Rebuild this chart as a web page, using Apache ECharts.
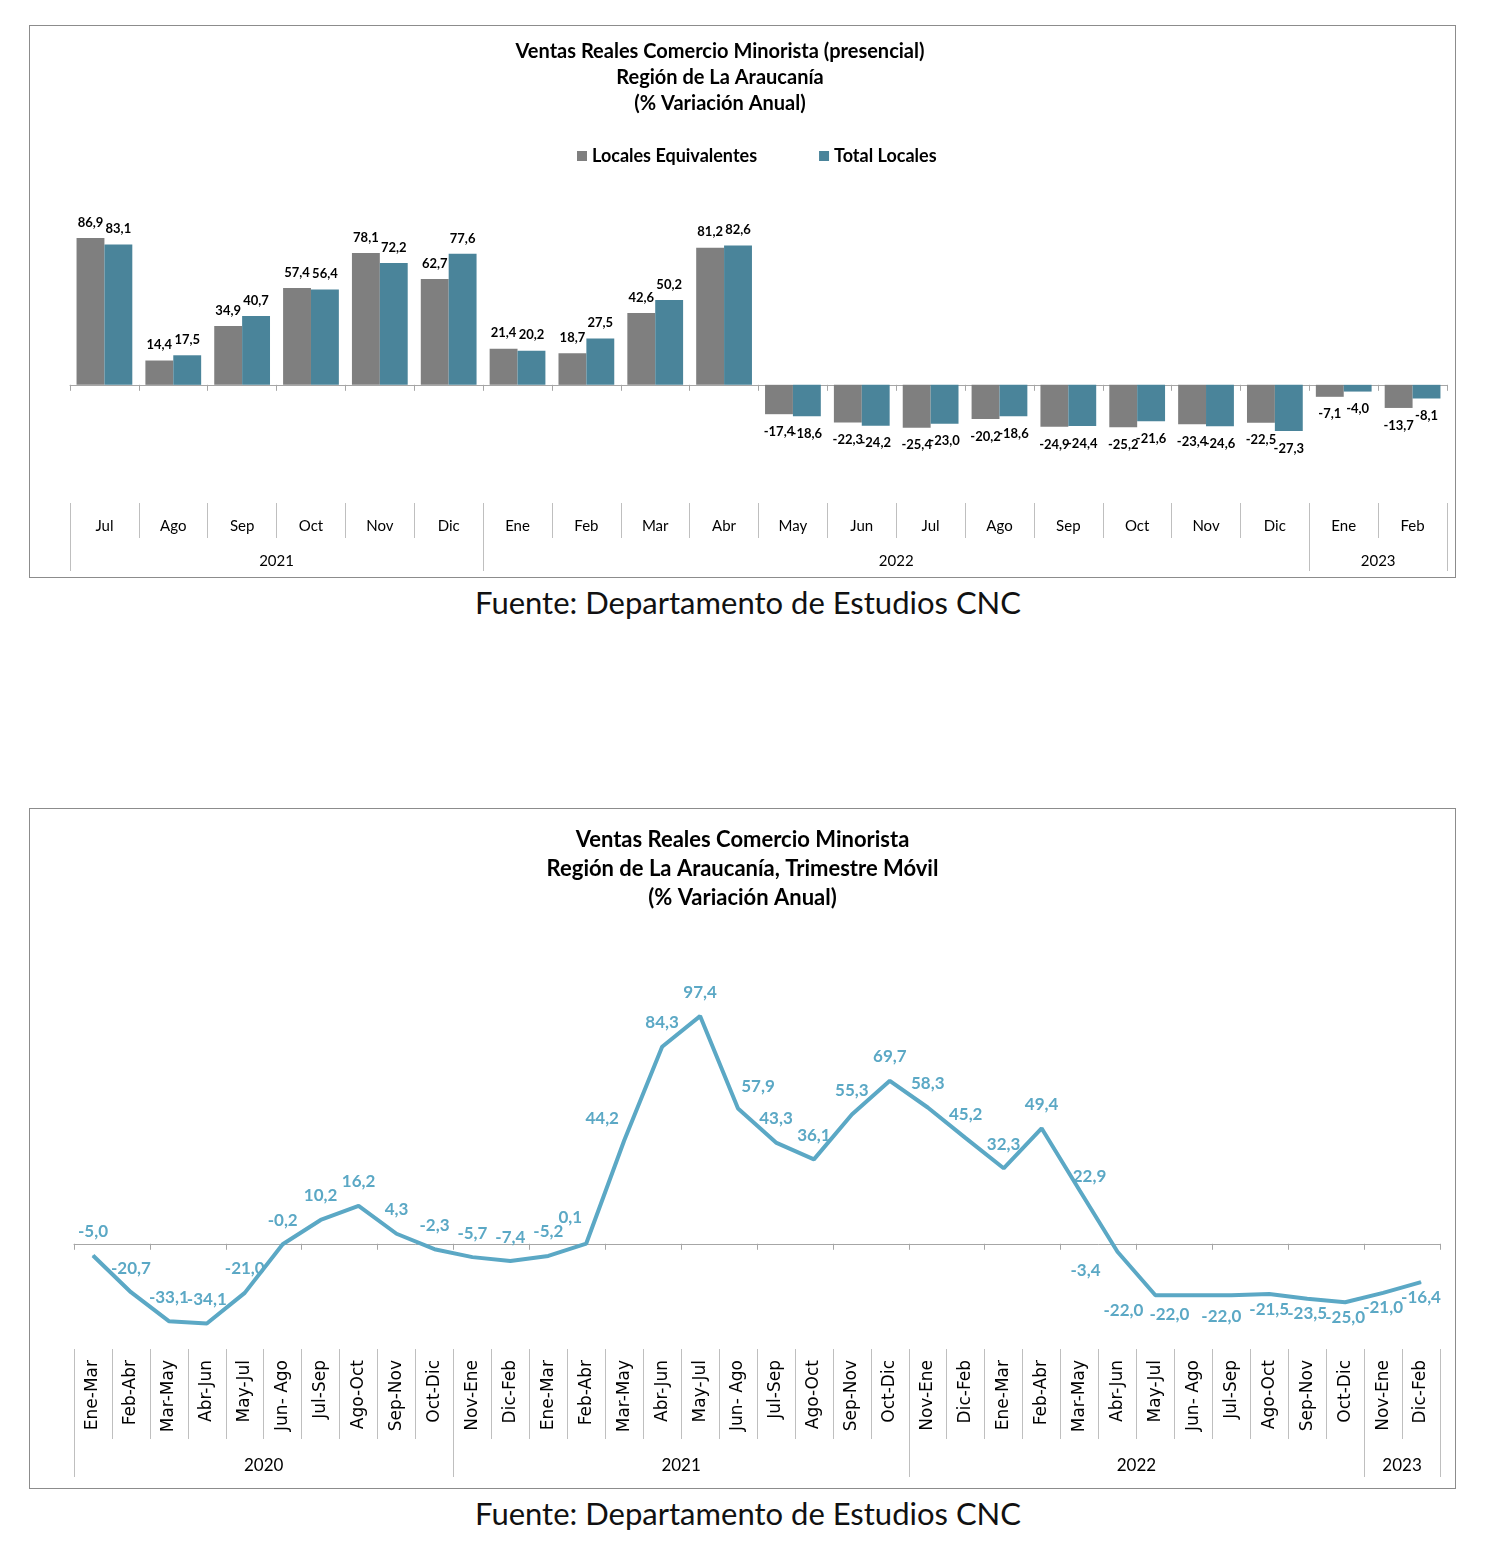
<!DOCTYPE html>
<html><head><meta charset="utf-8">
<script src="https://cdn.jsdelivr.net/npm/echarts@6/dist/echarts.min.js"></script>
<style>
body{margin:0;background:#fff;font-family:Lato,"Open Sans",sans-serif;}
.box{position:absolute;border:1px solid #8c8c8c;box-sizing:border-box;background:#fff;}
#c1{left:29px;top:25px;width:1427px;height:553px;}
#c2{left:29px;top:808px;width:1427px;height:681px;}
.src{position:absolute;left:0;width:1496px;text-align:center;font-size:31px;line-height:36px;color:#111;font-family:Lato,sans-serif;}
</style></head>
<body>
<div id="c1" class="box"></div>
<div class="src" style="top:584px;">Fuente: Departamento de Estudios CNC</div>
<div id="c2" class="box"></div>
<div class="src" style="top:1495px;">Fuente: Departamento de Estudios CNC</div>
<script>
// ---------- Chart 1 data ----------
const barMonths = ['Jul','Ago','Sep','Oct','Nov','Dic','Ene','Feb','Mar','Abr','May','Jun','Jul','Ago','Sep','Oct','Nov','Dic','Ene','Feb'];
const barYears = ['2021','2022','2023'];
const barYearSpans = [6,12,2];
const localesEquivalentes = [86.9,14.4,34.9,57.4,78.1,62.7,21.4,18.7,42.6,81.2,-17.4,-22.3,-25.4,-20.2,-24.9,-25.2,-23.4,-22.5,-7.1,-13.7];
const totalLocales = [83.1,17.5,40.7,56.4,72.2,77.6,20.2,27.5,50.2,82.6,-18.6,-24.2,-23.0,-18.6,-24.4,-21.6,-24.6,-27.3,-4.0,-8.1];

// ---------- Chart 2 data ----------
const lineMonths = ['Ene-Mar','Feb-Abr','Mar-May','Abr-Jun','May-Jul','Jun- Ago','Jul-Sep','Ago-Oct','Sep-Nov','Oct-Dic',
  'Nov-Ene','Dic-Feb','Ene-Mar','Feb-Abr','Mar-May','Abr-Jun','May-Jul','Jun- Ago','Jul-Sep','Ago-Oct','Sep-Nov','Oct-Dic',
  'Nov-Ene','Dic-Feb','Ene-Mar','Feb-Abr','Mar-May','Abr-Jun','May-Jul','Jun- Ago','Jul-Sep','Ago-Oct','Sep-Nov','Oct-Dic',
  'Nov-Ene','Dic-Feb'];
const lineYears = ['2020','2021','2022','2023'];
const lineYearSpans = [10,12,12,2];
const trimestreMovil = [-5.0,-20.7,-33.1,-34.1,-21.0,-0.2,10.2,16.2,4.3,-2.3,-5.7,-7.4,-5.2,0.1,44.2,84.3,97.4,57.9,43.3,36.1,55.3,69.7,58.3,45.2,32.3,49.4,22.9,-3.4,-22.0,-22.0,-22.0,-21.5,-23.5,-25.0,-21.0,-16.4];

const fmt = v => Number(v).toFixed(1).replace('.', ',');
function spanBounds(spans){const b=[0];spans.forEach(s=>b.push(b[b.length-1]+s));return b;}
function spanCenters(spans){const b=spanBounds(spans);return spans.map((s,i)=>b[i]+s/2);}

const axisGray = '#a6a6a6';
const FONT = 'Lato';

// ---------- Chart 1 ----------
const ch1 = echarts.init(document.getElementById('c1'));
const b1 = spanBounds(barYearSpans), cen1 = spanCenters(barYearSpans);
function barData(arr){
  return arr.map(v => ({value:v, label:{position: v < 0 ? 'bottom' : 'top', distance: v < 0 ? 11 : 9}}));
}
const barLabel = {show:true,formatter:p=>fmt(p.value),fontFamily:FONT,fontSize:13,fontWeight:'bold',color:'#000'};
ch1.setOption({
  animation:false,
  textStyle:{fontFamily:FONT},
  title:{text:'Ventas Reales Comercio Minorista (presencial)\nRegión de La Araucanía\n(% Variación Anual)',
    left:685, top:8, textAlign:'center',
    textStyle:{fontFamily:FONT,fontSize:20,fontWeight:'bold',color:'#000',lineHeight:26}},
  legend:{left:542, top:116, itemWidth:10, itemHeight:10, itemGap:62, icon:'rect',
    textStyle:{fontFamily:FONT,fontSize:18,fontWeight:'bold',color:'#000'}},
  grid:{left:40,right:8,top:190,height:287},
  xAxis:[
    {type:'category',data:barMonths,position:'bottom',
      axisLine:{onZero:true,lineStyle:{color:axisGray,width:1}},
      axisTick:{show:true,length:6,lineStyle:{color:axisGray}},
      axisLabel:{show:false},splitLine:{show:false}},
    {type:'category',data:barMonths,position:'bottom',
      axisLine:{show:false,onZero:false},
      axisTick:{show:true,length:35,lineStyle:{color:'#bfbfbf'}},
      axisLabel:{show:true,margin:16,fontFamily:FONT,fontSize:15,color:'#000'},splitLine:{show:false}},
    {type:'value',min:0,max:barMonths.length,position:'bottom',
      axisLine:{show:false,onZero:false},
      axisTick:{show:true,length:68,customValues:b1,lineStyle:{color:'#bfbfbf'}},
      axisLabel:{show:true,margin:51,customValues:cen1,fontFamily:FONT,fontSize:15,color:'#000',
        formatter:v=>{const i=cen1.indexOf(v);return i>=0?barYears[i]:'';}},
      splitLine:{show:false}}
  ],
  yAxis:{type:'value',min:-70,max:100,show:false,splitLine:{show:false}},
  series:[
    {name:'Locales Equivalentes',type:'bar',xAxisIndex:0,data:barData(localesEquivalentes),
      itemStyle:{color:'#7f7f7f'},barGap:'0%',barCategoryGap:'19%',label:barLabel},
    {name:'Total Locales',type:'bar',xAxisIndex:0,data:barData(totalLocales),
      itemStyle:{color:'#4a849a'},barGap:'0%',barCategoryGap:'19%',label:barLabel}
  ]
});

// ---------- Chart 2 ----------
const ch2 = echarts.init(document.getElementById('c2'));
const b2 = spanBounds(lineYearSpans), cen2 = spanCenters(lineYearSpans);
const lineColor = '#5ba8c5';
const labelTweaks = {
  13:{offset:[-16,-2]},
  14:{offset:[-22,2]},
  17:{offset:[20,2]},
  26:{offset:[10,10]},
  27:{position:'bottom',offset:[-32,4]},
  28:{position:'bottom',offset:[-32,0]},
  29:{position:'bottom',offset:[-24,4]},
  30:{position:'bottom',offset:[-10,6]}
};
const lineData = trimestreMovil.map((v,i)=>{
  const base = {position: i>=27 ? 'bottom' : 'top', distance: i>=27 ? 6 : 15};
  return {value:v, label:Object.assign(base, labelTweaks[i]||{})};
});
ch2.setOption({
  animation:false,
  textStyle:{fontFamily:FONT},
  title:{text:'Ventas Reales Comercio Minorista\nRegión de La Araucanía, Trimestre Móvil\n(% Variación Anual)',
    left:'center', top:11,
    textStyle:{fontFamily:FONT,fontSize:22,fontWeight:'bold',color:'#000',lineHeight:29}},
  grid:{left:44,right:15,top:201,height:339},
  xAxis:[
    {type:'category',data:lineMonths,position:'bottom',
      axisLine:{onZero:true,lineStyle:{color:axisGray,width:1}},
      axisTick:{show:true,length:6,lineStyle:{color:axisGray}},
      axisLabel:{show:false},splitLine:{show:false}},
    {type:'category',data:lineMonths,position:'bottom',
      axisLine:{show:false,onZero:false},
      axisTick:{show:true,length:90,lineStyle:{color:'#bfbfbf'}},
      axisLabel:{show:true,rotate:90,interval:0,margin:11,fontFamily:'DejaVu Sans',fontSize:17,color:'#000'},
      splitLine:{show:false}},
    {type:'value',min:0,max:lineMonths.length,position:'bottom',
      axisLine:{show:false,onZero:false},
      axisTick:{show:true,length:128,customValues:b2,lineStyle:{color:'#bfbfbf'}},
      axisLabel:{show:true,margin:108,customValues:cen2,fontFamily:FONT,fontSize:17,color:'#000',
        formatter:v=>{const i=cen2.indexOf(v);return i>=0?lineYears[i]:'';}},
      splitLine:{show:false}}
  ],
  yAxis:{type:'value',min:-45,max:100,show:false,splitLine:{show:false}},
  series:[
    {name:'Trimestre Móvil',type:'line',xAxisIndex:0,data:lineData,
      symbol:'circle',symbolSize:1,showSymbol:true,
      lineStyle:{color:lineColor,width:4},itemStyle:{color:lineColor},
      label:{show:true,formatter:p=>fmt(p.value),fontFamily:FONT,fontSize:17,fontWeight:'bold',color:lineColor}}
  ]
});
</script>
</body></html>
